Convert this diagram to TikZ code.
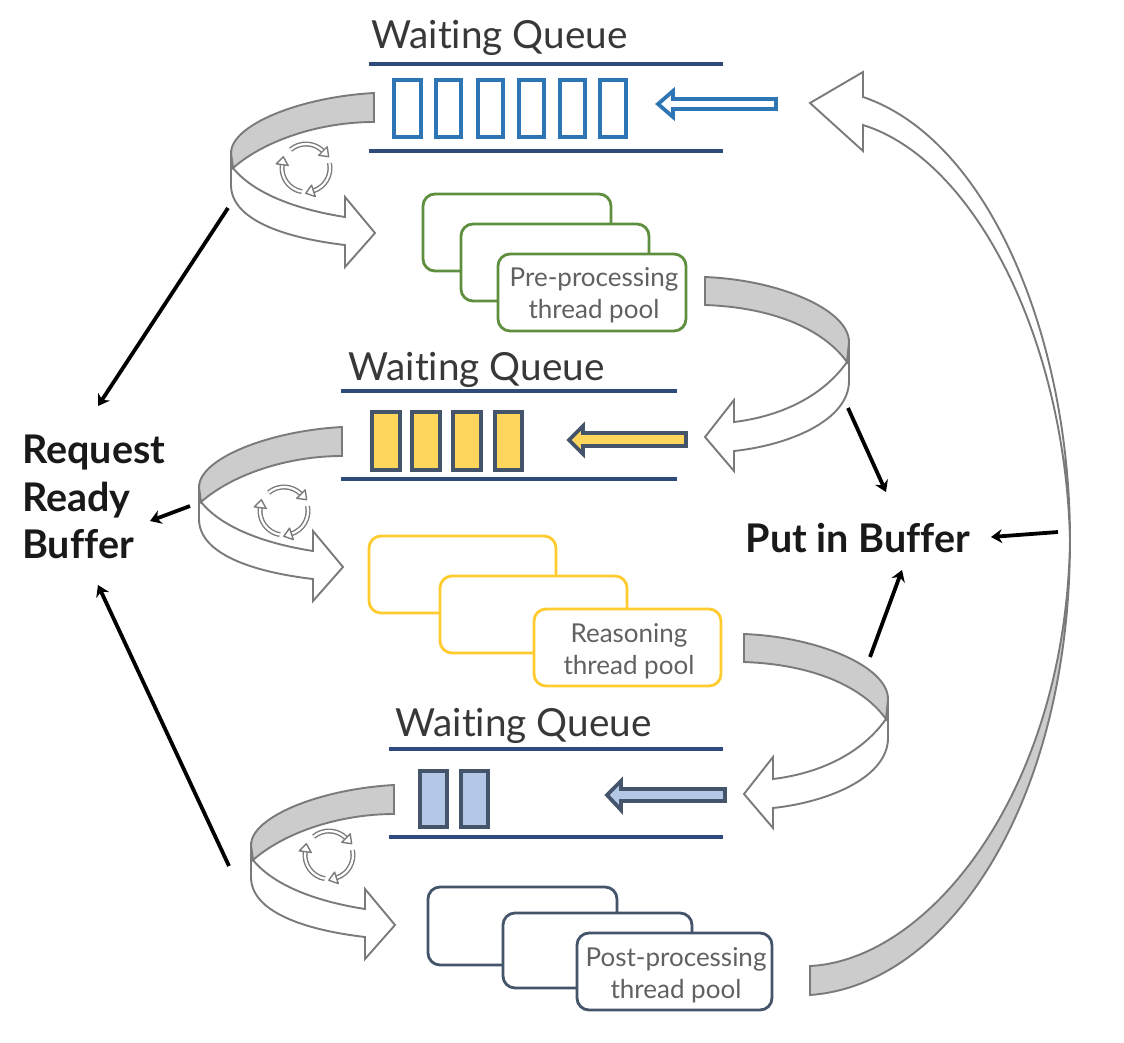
\documentclass[tikz,border=0pt]{standalone}
\usepackage{fontspec}
\usetikzlibrary{arrows.meta}
\setmainfont[Ligatures=NoCommon]{Lato}
\begin{document}
\begin{tikzpicture}[x=1pt,y=-1pt,
  band/.style={draw=black!52,line width=1.9pt,fill=black!20,line join=miter},
  wband/.style={draw=black!52,line width=1.9pt,fill=white,line join=miter},
  rail/.style={draw=railc,line width=3.5pt},
  qbox/.style={line width=4.5pt,draw=#1},
  pool/.style={draw=#1,line width=2.8pt,fill=white,rounded corners=12pt},
  qarrow/.style={line width=3.8pt,line join=miter},
  conn/.style={line width=3.8pt,black,-{Stealth[length=11pt,width=14pt]},shorten >=0pt},
  title/.style={text=black!78,font=\fontsize{38.7}{38.7}\selectfont,inner sep=0pt},
  pooltext/.style={text=black!62,font=\fontsize{26}{32}\selectfont,align=center,inner sep=0pt},
  boldlabel/.style={font=\fontsize{39.5}{47.5}\selectfont\bfseries,text=black!90,align=left,inner sep=0pt},
  iconline/.style={draw=black!52,line width=1.4pt,double=white,double distance=2.2pt},
  icontip/.style={draw=black!52,line width=1.4pt,fill=white,line join=round}
]
\definecolor{railc}{HTML}{2F4B7C}
\definecolor{qblue}{HTML}{2E75B6}
\definecolor{slate}{HTML}{44546A}
\definecolor{qyellow}{HTML}{FFD65C}
\definecolor{qlav}{HTML}{B4C7E7}
\definecolor{pgreen}{HTML}{5E8F3E}
\definecolor{pyellow}{HTML}{FFCB2E}
\useasboundingbox (0,0) rectangle (1124,1042);

% --- curved arrows bending left
\newcommand{\bendleft}[2]{%
\begin{scope}[shift={(#1,#2)}]
\draw[wband] (233,168) .. controls (255,195) and (300,210) .. (345,217) -- (345,197) -- (375,233) -- (345,267) -- (345,245) .. controls (285,238) and (231,220) .. (231,185) -- (231,150) -- cycle;
\draw[band] (374,93) .. controls (300,97) and (231,125) .. (231,153) -- (233,168) .. controls (265,140) and (320,122) .. (374,122) -- cycle;
\end{scope}}
% --- curved arrows bending right
\newcommand{\bendright}[2]{%
\begin{scope}[shift={(#1,#2)}]
\draw[wband] (847,362) .. controls (820,400) and (775,417) .. (734,422) -- (734,400) -- (705,437) -- (734,471) -- (734,451) .. controls (790,445) and (849,420) .. (849,381) -- (849,342) -- cycle;
\draw[band] (705,277) .. controls (780,280) and (849,310) .. (849,342) -- (847,362) .. controls (820,325) and (765,307) .. (705,305) -- cycle;
\end{scope}}
% --- cycle icon
\newcommand{\cycleicon}[2]{%
\begin{scope}[shift={(#1,#2)},x=1pt,y=1pt]
\draw[iconline] (130:24pt) arc (130:45:24pt);
\draw[iconline] (12:24pt) arc (12:-72:24pt);
\draw[iconline] (-100:24pt) arc (-100:-188:24pt);
\begin{scope}[rotate=45]\draw[icontip] (18,0)--(30,0)--(24,-8)--cycle;\end{scope}
\begin{scope}[rotate=-72]\draw[icontip] (18,0)--(30,0)--(24,-8)--cycle;\end{scope}
\begin{scope}[rotate=-188]\draw[icontip] (18,0)--(30,0)--(24,-8)--cycle;\end{scope}
\end{scope}}

% big return arrow
\draw[wband] (1070,540) .. controls (1065,340) and (975,160) .. (863,125) -- (863,151) -- (810,103) -- (863,72) -- (863,97) .. controls (990,140) and (1070,340) .. (1070,540) -- cycle;
\draw[band] (810,966) .. controls (930,960) and (1066,790) .. (1070,540) .. controls (1070,800) and (950,985) .. (810,995) -- cycle;

\bendleft{0}{0}
\bendleft{-32}{334}
\bendleft{20}{692}
\bendright{0}{0}
\bendright{39}{357}
\cycleicon{306}{168}
\cycleicon{284}{511}
\cycleicon{329}{855}

% queue 1
\node[title] (t1) at (499.5,38) {Waiting Queue};
\draw[rail] (369,64) -- (723,64);
\draw[rail] (369,151) -- (723,151);
\foreach \a/\b in {394/421,436/461,478/503,519/544,560/585,600/626}
  \draw[qbox=qblue] (\a,80) rectangle (\b,137);
\draw[qarrow,draw=qblue,fill=white] (658,104) -- (673,91) -- (673,99) -- (776,99) -- (776,109) -- (673,109) -- (673,117) -- cycle;

% queue 2
\node[title] (t2) at (476.5,370) {Waiting Queue};
\draw[rail] (341,391) -- (677,391);
\draw[rail] (341,479) -- (677,479);
\foreach \a/\b in {372/400,412/440,453/481,495/522}
  \draw[qbox=slate,fill=qyellow] (\a,412) rectangle (\b,470);
\draw[qarrow,draw=slate,fill=qyellow] (569,440) -- (583,426) -- (583,433) -- (686,433) -- (686,446) -- (583,446) -- (583,454) -- cycle;

% queue 3
\node[title] (t3) at (523.5,726) {Waiting Queue};
\draw[rail] (389,749) -- (723,749);
\draw[rail] (389,837) -- (723,837);
\foreach \a/\b in {420/447,461/488}
  \draw[qbox=slate,fill=qlav] (\a,771) rectangle (\b,827);
\draw[qarrow,draw=slate,fill=qlav] (607,795) -- (621,781) -- (621,789) -- (725,789) -- (725,801) -- (621,801) -- (621,810) -- cycle;

% thread pools
\draw[pool=pgreen] (423,194) rectangle (611,271);
\draw[pool=pgreen] (461,224) rectangle (649,301);
\draw[pool=pgreen] (498,254) rectangle (686,331);
\node[pooltext] (p1) at (594,295) {Pre-processing\\thread pool};

\draw[pool=pyellow] (369,536) rectangle (556,613);
\draw[pool=pyellow] (440,576) rectangle (627,653);
\draw[pool=pyellow] (534,609) rectangle (721,686);
\node[pooltext] (p2) at (629,651) {Reasoning\\thread pool};

\draw[pool=slate] (428,887) rectangle (617,965);
\draw[pool=slate] (503,913) rectangle (692,988);
\draw[pool=slate] (577,933) rectangle (772,1010);
\node[pooltext] (p3) at (676,975) {Post-processing\\thread pool};

% labels
\node[boldlabel,anchor=west] (rrb) at (22,497) {Request\\Ready\\Buffer};
\node[boldlabel] (pib) at (858,538) {Put in Buffer};

% black connectors
\coordinate (a1) at (228,208);
\coordinate (a1e) at (98,406);
\coordinate (a2) at (190,506);
\coordinate (a2e) at (150,521);
\coordinate (a3) at (229,866);
\coordinate (a3e) at (98,585);
\coordinate (b1) at (848,408);
\coordinate (b1e) at (886,492);
\coordinate (b2) at (1058,532);
\coordinate (b2e) at (991,537);
\coordinate (b3) at (870,657);
\coordinate (b3e) at (902,570);
\foreach \s/\e in {a1/a1e,a2/a2e,a3/a3e,b1/b1e,b2/b2e,b3/b3e}
  \draw[conn] (\s) -- (\e);
\end{tikzpicture}
\end{document}
